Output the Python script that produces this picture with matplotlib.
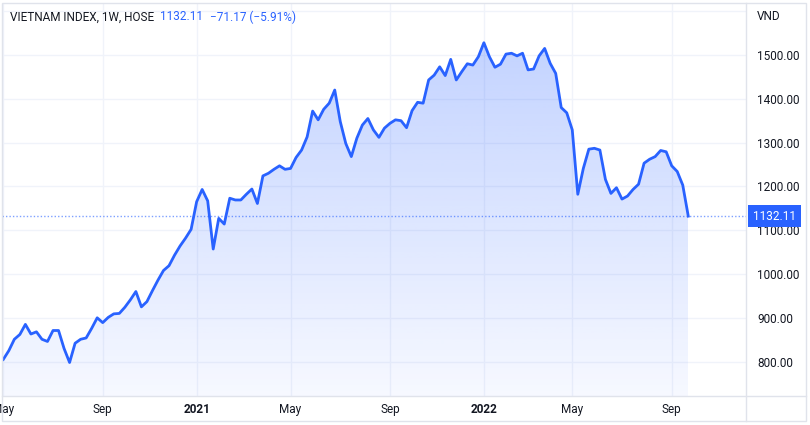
import numpy as np
import pandas as pd
import matplotlib
matplotlib.use('Agg')
from matplotlib import pyplot as plt
from matplotlib import transforms
from matplotlib.patches import Rectangle

plt.rcParams['font.family'] = ['Roboto', 'DejaVu Sans']

# weekly closes of VN-Index, bars from week of 2020-05-04 to week of 2022-09-26
weeks = pd.date_range('2020-05-04', '2022-09-26', freq='W-MON')
weeks = weeks[weeks != pd.Timestamp('2022-01-31')]  # Tet week, market closed

closes = [805, 825, 851, 862, 885, 863, 868, 851, 846, 871,
          871, 830, 798, 842, 851, 854, 876, 900, 889, 901,
          909, 910, 924, 941, 960, 925, 937, 962, 986, 1008,
          1019, 1043, 1064, 1082, 1102, 1165, 1193, 1167, 1057, 1127,
          1114, 1173, 1169, 1169, 1182, 1194, 1161, 1224, 1230, 1239,
          1247, 1239, 1241, 1266, 1283, 1313, 1372, 1352, 1376, 1390,
          1420, 1348, 1298, 1268, 1310, 1340, 1355, 1329, 1312, 1333,
          1344, 1352, 1350, 1334, 1373, 1392, 1390, 1443, 1454, 1473,
          1453, 1490, 1443, 1462, 1480, 1477, 1496, 1528, 1496, 1472,
          1479, 1502, 1504, 1498, 1504, 1466, 1468, 1498, 1515, 1481,
          1458, 1380, 1368, 1329, 1182, 1241, 1285, 1287, 1283, 1216,
          1184, 1197, 1171, 1178, 1193, 1205, 1253, 1262, 1268, 1282,
          1279, 1247, 1234, 1203, 1132.11]

symbol = 'VIETNAM INDEX, 1W, HOSE'
last_close = 1132.11
change = -71.17
change_pct = -5.91

price_ticks = [800, 900, 1000, 1100, 1200, 1300, 1400, 1500]
time_labels = ['May', 'Sep', '2021', 'May', 'Sep', '2022', 'May', 'Sep']

blue = '#2962ff'
text_col = '#131722'
grid_col = '#f0f3fa'
border_col = '#e0e3eb'

x = np.arange(len(closes))
y = np.array(closes)

# first bar of May / Sep / Jan
months = weeks.month
tick_pos = [0] + [i for i in range(1, len(weeks))
                  if months[i] != months[i - 1] and months[i] in (1, 5, 9)]

W, H = 810, 425
fig = plt.figure(figsize=(W / 100, H / 100), dpi=100)
ax = fig.add_axes([2 / W, 1 - 396 / H, 744 / W, 393 / H])

xlim = (-0.235, 134.45)
ylim = (721.5, 1618.7)

# grid
for v in price_ticks + [1600]:
    ax.axhline(v, color=grid_col, lw=1, zorder=0)
for p in tick_pos:
    ax.axvline(p, color=grid_col, lw=1, zorder=0)

# gradient area under the line
fill = ax.fill_between(x, y, ylim[0], color='none', lw=0)
rgba = np.zeros((256, 1, 4))
rgba[..., 0] = 41 / 255
rgba[..., 1] = 98 / 255
rgba[..., 2] = 1.0
rgba[..., 3] = np.linspace(0.04, 0.28, 256).reshape(-1, 1)
im = ax.imshow(rgba, aspect='auto', origin='lower',
               extent=[x[0], x[-1], ylim[0], y.max()], zorder=1)
im.set_clip_path(fill.get_paths()[0], transform=ax.transData)

ax.plot(x, y, color=blue, lw=2, zorder=3, solid_joinstyle='round')
ax.axhline(last_close, color=blue, lw=1, ls=(0, (1, 1.5)), alpha=0.6, zorder=2)
ax.set_xlim(*xlim)
ax.set_ylim(*ylim)

# axes cosmetics
for s in ax.spines.values():
    s.set_visible(False)
ax.yaxis.tick_right()
ax.set_yticks(price_ticks, [f'{v:.2f}' for v in price_ticks])
ax.set_xticks(tick_pos, time_labels)
ax.tick_params(axis='y', length=0, pad=8, labelsize=8.5, labelcolor=text_col)
ax.tick_params(axis='x', length=0, pad=5, labelsize=8.5, labelcolor=text_col)
for lab in ax.get_xticklabels():
    if lab.get_text().isdigit():
        lab.set_fontweight('bold')

# last price label on the scale
off = transforms.offset_copy(transforms.blended_transform_factory(ax.transAxes, ax.transData),
                             fig=fig, x=7, y=0, units='dots')
ax.text(1.0, last_close, f'{last_close:.2f}', transform=off, color='white',
        fontsize=8.5, ha='left', va='center', clip_on=False,
        bbox=dict(boxstyle='square,pad=0.4', fc=blue, ec='none'))

# header legend
t1 = fig.text(10 / W, 1 - 17 / H, symbol, fontsize=8.5, color=text_col, va='center')
t2 = ax.annotate(f'{last_close:.2f}', xy=(1, 0.5), xycoords=t1, xytext=(4, 0),
                 textcoords='offset points', fontsize=8.5, color=blue, va='center')
ax.annotate(f'{change:.2f} ({change_pct:.2f}%)'.replace('-', '\u2212'),
            xy=(1, 0.5), xycoords=t2, xytext=(5, 0), textcoords='offset points',
            fontsize=8.5, color=blue, va='center')
fig.text(757 / W, 1 - 17 / H, 'VND', fontsize=8.5, color=text_col, va='center')

# pane separators and outer frame
fig.add_artist(Rectangle((2 / W, 1 - 421 / H), 804 / W, 418 / H, transform=fig.transFigure,
                         fill=False, ec=border_col, lw=1))
fig.add_artist(plt.Line2D([746 / W, 746 / W], [1 - 421 / H, 1 - 3 / H],
                          transform=fig.transFigure, color=border_col, lw=1))
fig.add_artist(plt.Line2D([2 / W, 806 / W], [1 - 396 / H, 1 - 396 / H],
                          transform=fig.transFigure, color=border_col, lw=1))

fig.savefig('out.png', dpi=100, facecolor='white')
